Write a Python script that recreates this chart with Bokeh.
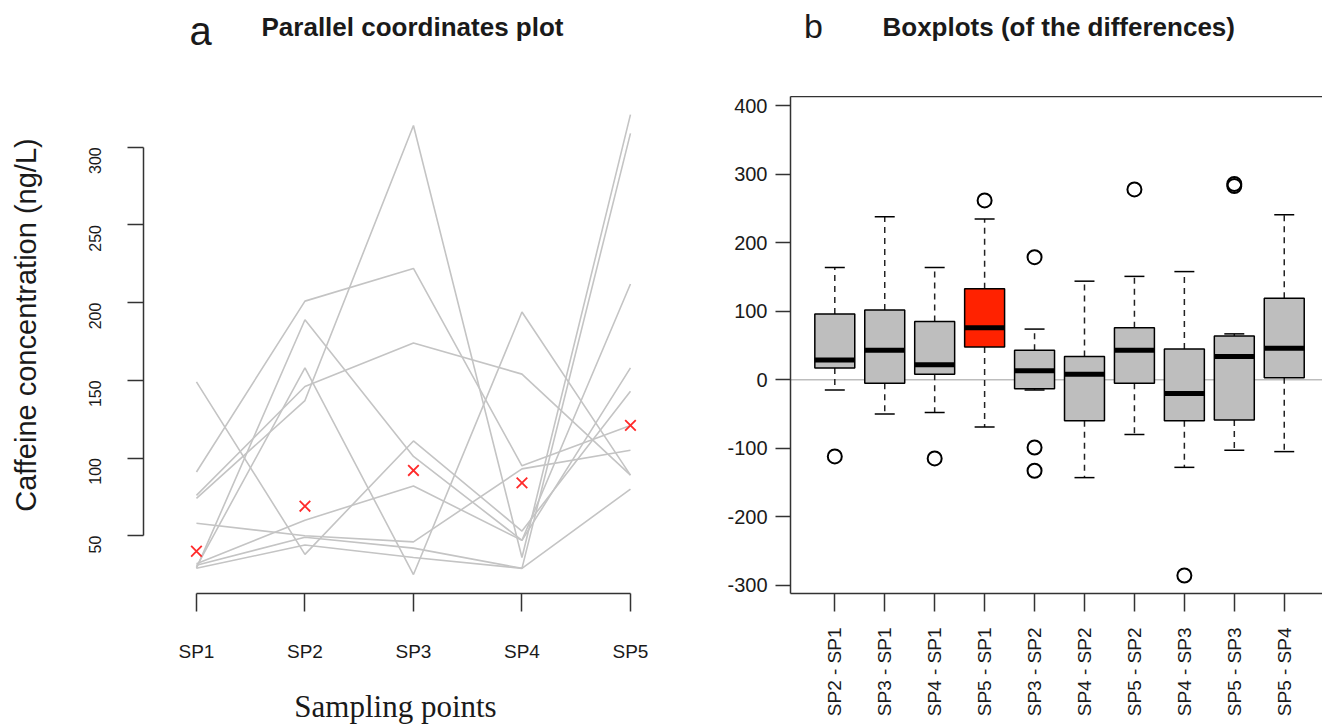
import math
import numpy as np
from bokeh.plotting import figure
from bokeh.models import Range1d, FixedTicker, LinearAxis, Span
from bokeh.core.properties import value
from bokeh.layouts import row, column
from bokeh.embed import file_html
from bokeh.resources import INLINE

# ---------------- data: panel a (parallel coordinates) ----------------
sampling_points = ["SP1", "SP2", "SP3", "SP4", "SP5"]
sample_01 = [149, 38, 111, 53, 143]
sample_02 = [91, 201, 222, 95, 121]
sample_03 = [76, 146, 174, 154, 89]
sample_04 = [74, 137, 314, 36, 321]
sample_05 = [29, 189, 101, 47, 158]
sample_06 = [30, 158, 25, 194, 89]
sample_07 = [58, 50, 46, 93, 105]
sample_08 = [32, 60, 82, 47, 212]
sample_09 = [31, 49, 42, 29, 309]
sample_10 = [29, 44, 36, 29, 80]
marked_values = [40, 69, 92, 84, 121]
conc_ticks = [50, 100, 150, 200, 250, 300]

# ---------------- data: panel b (boxplots of differences) ----------------
diff_labels = ["SP2 - SP1", "SP3 - SP1", "SP4 - SP1", "SP5 - SP1", "SP3 - SP2",
               "SP4 - SP2", "SP5 - SP2", "SP4 - SP3", "SP5 - SP3", "SP5 - SP4"]
whisker_low = [-15, -50, -48, -69, -15, -143, -80, -128, -103, -105]
q1 = [17, -5, 8, 48, -13, -60, -5, -60, -59, 3]
median = [29, 43, 22, 76, 13, 8, 43, -20, 34, 46]
q3 = [96, 102, 85, 133, 43, 34, 76, 45, 64, 119]
whisker_high = [164, 238, 164, 235, 74, 144, 151, 158, 67, 241]
outlier_label = ["SP2 - SP1", "SP4 - SP1", "SP5 - SP1", "SP3 - SP2", "SP3 - SP2",
                 "SP3 - SP2", "SP5 - SP2", "SP4 - SP3", "SP5 - SP3", "SP5 - SP3"]
outlier_value = [-112, -115, 262, 179, -99, -133, 278, -286, 283, 286]
highlight = "SP5 - SP1"
diff_ticks = [-300, -200, -100, 0, 100, 200, 300, 400]

FONT = "Liberation Sans"
INK = "#1a1a1a"
AXC = "#333333"

HEAD_H = 96
BODY_H = 726 - HEAD_H
CONC_LO, CONC_HI = 12.8, 332.7

def bare(width, height, yr):
    f = figure(width=width, height=height, output_backend="svg", toolbar_location=None,
               title=None, x_range=Range1d(0, width), y_range=yr,
               min_border=0, x_axis_type=None, y_axis_type=None)
    f.outline_line_color = None
    f.grid.visible = False
    return f

# ================= header (panel letters and titles) =================
head = bare(1322, HEAD_H, Range1d(0, HEAD_H))
def hy(py):
    return HEAD_H - py

head.text(x=[200], y=[hy(30)], text=["a"], text_font=value(FONT), text_font_size="40px",
          text_align="center", text_baseline="middle", text_color=INK)
head.text(x=[261], y=[hy(26)], text=["Parallel coordinates plot"], text_font=value(FONT),
          text_font_size="26px", text_font_style="bold", text_align="left",
          text_baseline="middle", text_color=INK)
head.text(x=[813], y=[hy(25)], text=["b"], text_font=value(FONT), text_font_size="34px",
          text_align="center", text_baseline="middle", text_color=INK)
head.text(x=[882], y=[hy(26)], text=["Boxplots (of the differences)"], text_font=value(FONT),
          text_font_size="26px", text_font_style="bold", text_align="left",
          text_baseline="middle", text_color=INK)

# ================= y-axis title of panel a (frame aligned with panel a) =================
YL_W = 60
ylab = bare(YL_W, BODY_H, Range1d(CONC_LO, CONC_HI))
def conc_at(py):
    # page pixel row -> concentration value on panel a's vertical scale
    return 300 - (py - 147) / 1.56

ylab.text(x=[25], y=[conc_at(513)], text=["Caffeine concentration (ng/L)"],
          angle=math.pi / 2, text_font=value(FONT), text_font_size="29px",
          text_align="left", text_baseline="middle", text_color=INK)

# ================= panel a =================
pl = figure(width=700 - YL_W, height=BODY_H, output_backend="svg", toolbar_location=None,
            x_range=Range1d(0.512, 5.157), y_range=Range1d(CONC_LO, CONC_HI),
            min_border_left=143 - YL_W, min_border_right=53, min_border_top=0,
            min_border_bottom=131)
pl.outline_line_color = None
pl.grid.visible = False

xpos = list(range(1, len(sampling_points) + 1))
profiles = [sample_01, sample_02, sample_03, sample_04, sample_05,
            sample_06, sample_07, sample_08, sample_09, sample_10]
pl.multi_line(xs=[xpos] * len(profiles), ys=profiles, line_color="#c4c4c4", line_width=1.6)
pl.scatter(x=xpos, y=marked_values, marker="x", size=15, line_color="#ff2a2a", line_width=1.8)

xa = pl.xaxis[0]
xa.ticker = FixedTicker(ticks=xpos)
xa.major_label_overrides = {i: s for i, s in zip(xpos, sampling_points)}
xa.bounds = (xpos[0], xpos[-1])
xa.minor_tick_line_color = None
xa.major_tick_in = 0
xa.major_tick_out = 18
xa.major_label_standoff = 29
xa.major_label_text_font = FONT
xa.major_label_text_font_size = "19px"
xa.major_label_text_color = INK
xa.axis_line_color = AXC
xa.axis_line_width = 1.5
xa.major_tick_line_color = AXC
xa.major_tick_line_width = 1.5
xa.axis_label = "Sampling points"
xa.axis_label_text_font = "Liberation Serif"
xa.axis_label_text_font_style = "normal"
xa.axis_label_text_font_size = "31px"
xa.axis_label_text_color = INK
xa.axis_label_standoff = 24

ya = pl.yaxis[0]
ya.ticker = FixedTicker(ticks=conc_ticks)
ya.bounds = (conc_ticks[0], conc_ticks[-1])
ya.minor_tick_line_color = None
ya.major_tick_in = 0
ya.major_tick_out = 16
ya.major_label_orientation = math.pi / 2
ya.major_label_standoff = 32
ya.major_label_text_font = FONT
ya.major_label_text_font_size = "16px"
ya.major_label_text_color = INK
ya.axis_line_color = AXC
ya.axis_line_width = 1.5
ya.major_tick_line_color = AXC
ya.major_tick_line_width = 1.5

# ================= panel b =================
pr = figure(width=622, height=BODY_H, output_backend="svg", toolbar_location=None,
            x_range=Range1d(0.113, 10.766), y_range=Range1d(-312.3, 413.8),
            min_border_left=90, min_border_right=0, min_border_top=0,
            min_border_bottom=129)
pr.outline_line_color = None
pr.grid.visible = False

pos = np.arange(1, len(diff_labels) + 1)
idx = {lab: i + 1 for i, lab in enumerate(diff_labels)}
fills = ["#ff2200" if lab == highlight else "#bebebe" for lab in diff_labels]
box_w = 0.8
cap_w = 0.4

pr.add_layout(Span(location=0, dimension="width", line_color="#bdbdbd", line_width=1.5,
                   level="underlay"))
pr.segment(x0=pos, y0=q3, x1=pos, y1=whisker_high, line_color="#222222", line_width=1.5,
           line_dash="6 5")
pr.segment(x0=pos, y0=q1, x1=pos, y1=whisker_low, line_color="#222222", line_width=1.5,
           line_dash="6 5")
pr.segment(x0=pos - cap_w / 2, y0=whisker_high, x1=pos + cap_w / 2, y1=whisker_high,
           line_color="black", line_width=1.5)
pr.segment(x0=pos - cap_w / 2, y0=whisker_low, x1=pos + cap_w / 2, y1=whisker_low,
           line_color="black", line_width=1.5)
pr.vbar(x=pos, width=box_w, top=q3, bottom=q1, fill_color=fills, line_color="black",
        line_width=1.5)
pr.segment(x0=pos - box_w / 2, y0=median, x1=pos + box_w / 2, y1=median,
           line_color="black", line_width=5)
pr.scatter(x=[idx[l] for l in outlier_label], y=outlier_value, marker="circle", size=14,
           fill_color=None, line_color="black", line_width=2)

bx = pr.xaxis[0]
bx.ticker = FixedTicker(ticks=list(pos))
bx.major_label_overrides = {int(i): s for i, s in zip(pos, diff_labels)}
bx.minor_tick_line_color = None
bx.major_tick_in = 0
bx.major_tick_out = 18
bx.major_label_orientation = math.pi / 2
bx.major_label_standoff = 16
bx.major_label_text_font = FONT
bx.major_label_text_font_size = "19px"
bx.major_label_text_color = INK
bx.axis_line_color = AXC
bx.axis_line_width = 1.5
bx.major_tick_line_color = AXC
bx.major_tick_line_width = 1.5

by = pr.yaxis[0]
by.ticker = FixedTicker(ticks=diff_ticks)
by.major_label_overrides = {t: str(t) for t in diff_ticks}
by.minor_tick_line_color = None
by.major_tick_in = 0
by.major_tick_out = 15
by.major_label_standoff = 8
by.major_label_text_font = FONT
by.major_label_text_font_size = "20px"
by.major_label_text_color = INK
by.axis_line_color = AXC
by.axis_line_width = 1.5
by.major_tick_line_color = AXC
by.major_tick_line_width = 1.5

top = LinearAxis(ticker=FixedTicker(ticks=[]), axis_line_color=AXC, axis_line_width=1.5,
                 major_tick_line_color=None, minor_tick_line_color=None,
                 major_tick_out=0, major_tick_in=0, major_label_standoff=0,
                 major_label_text_font_size="0px")
pr.add_layout(top, "above")

layout = column(head, row(ylab, pl, pr), spacing=0)
open("out.html", "w").write(file_html(layout, INLINE))
